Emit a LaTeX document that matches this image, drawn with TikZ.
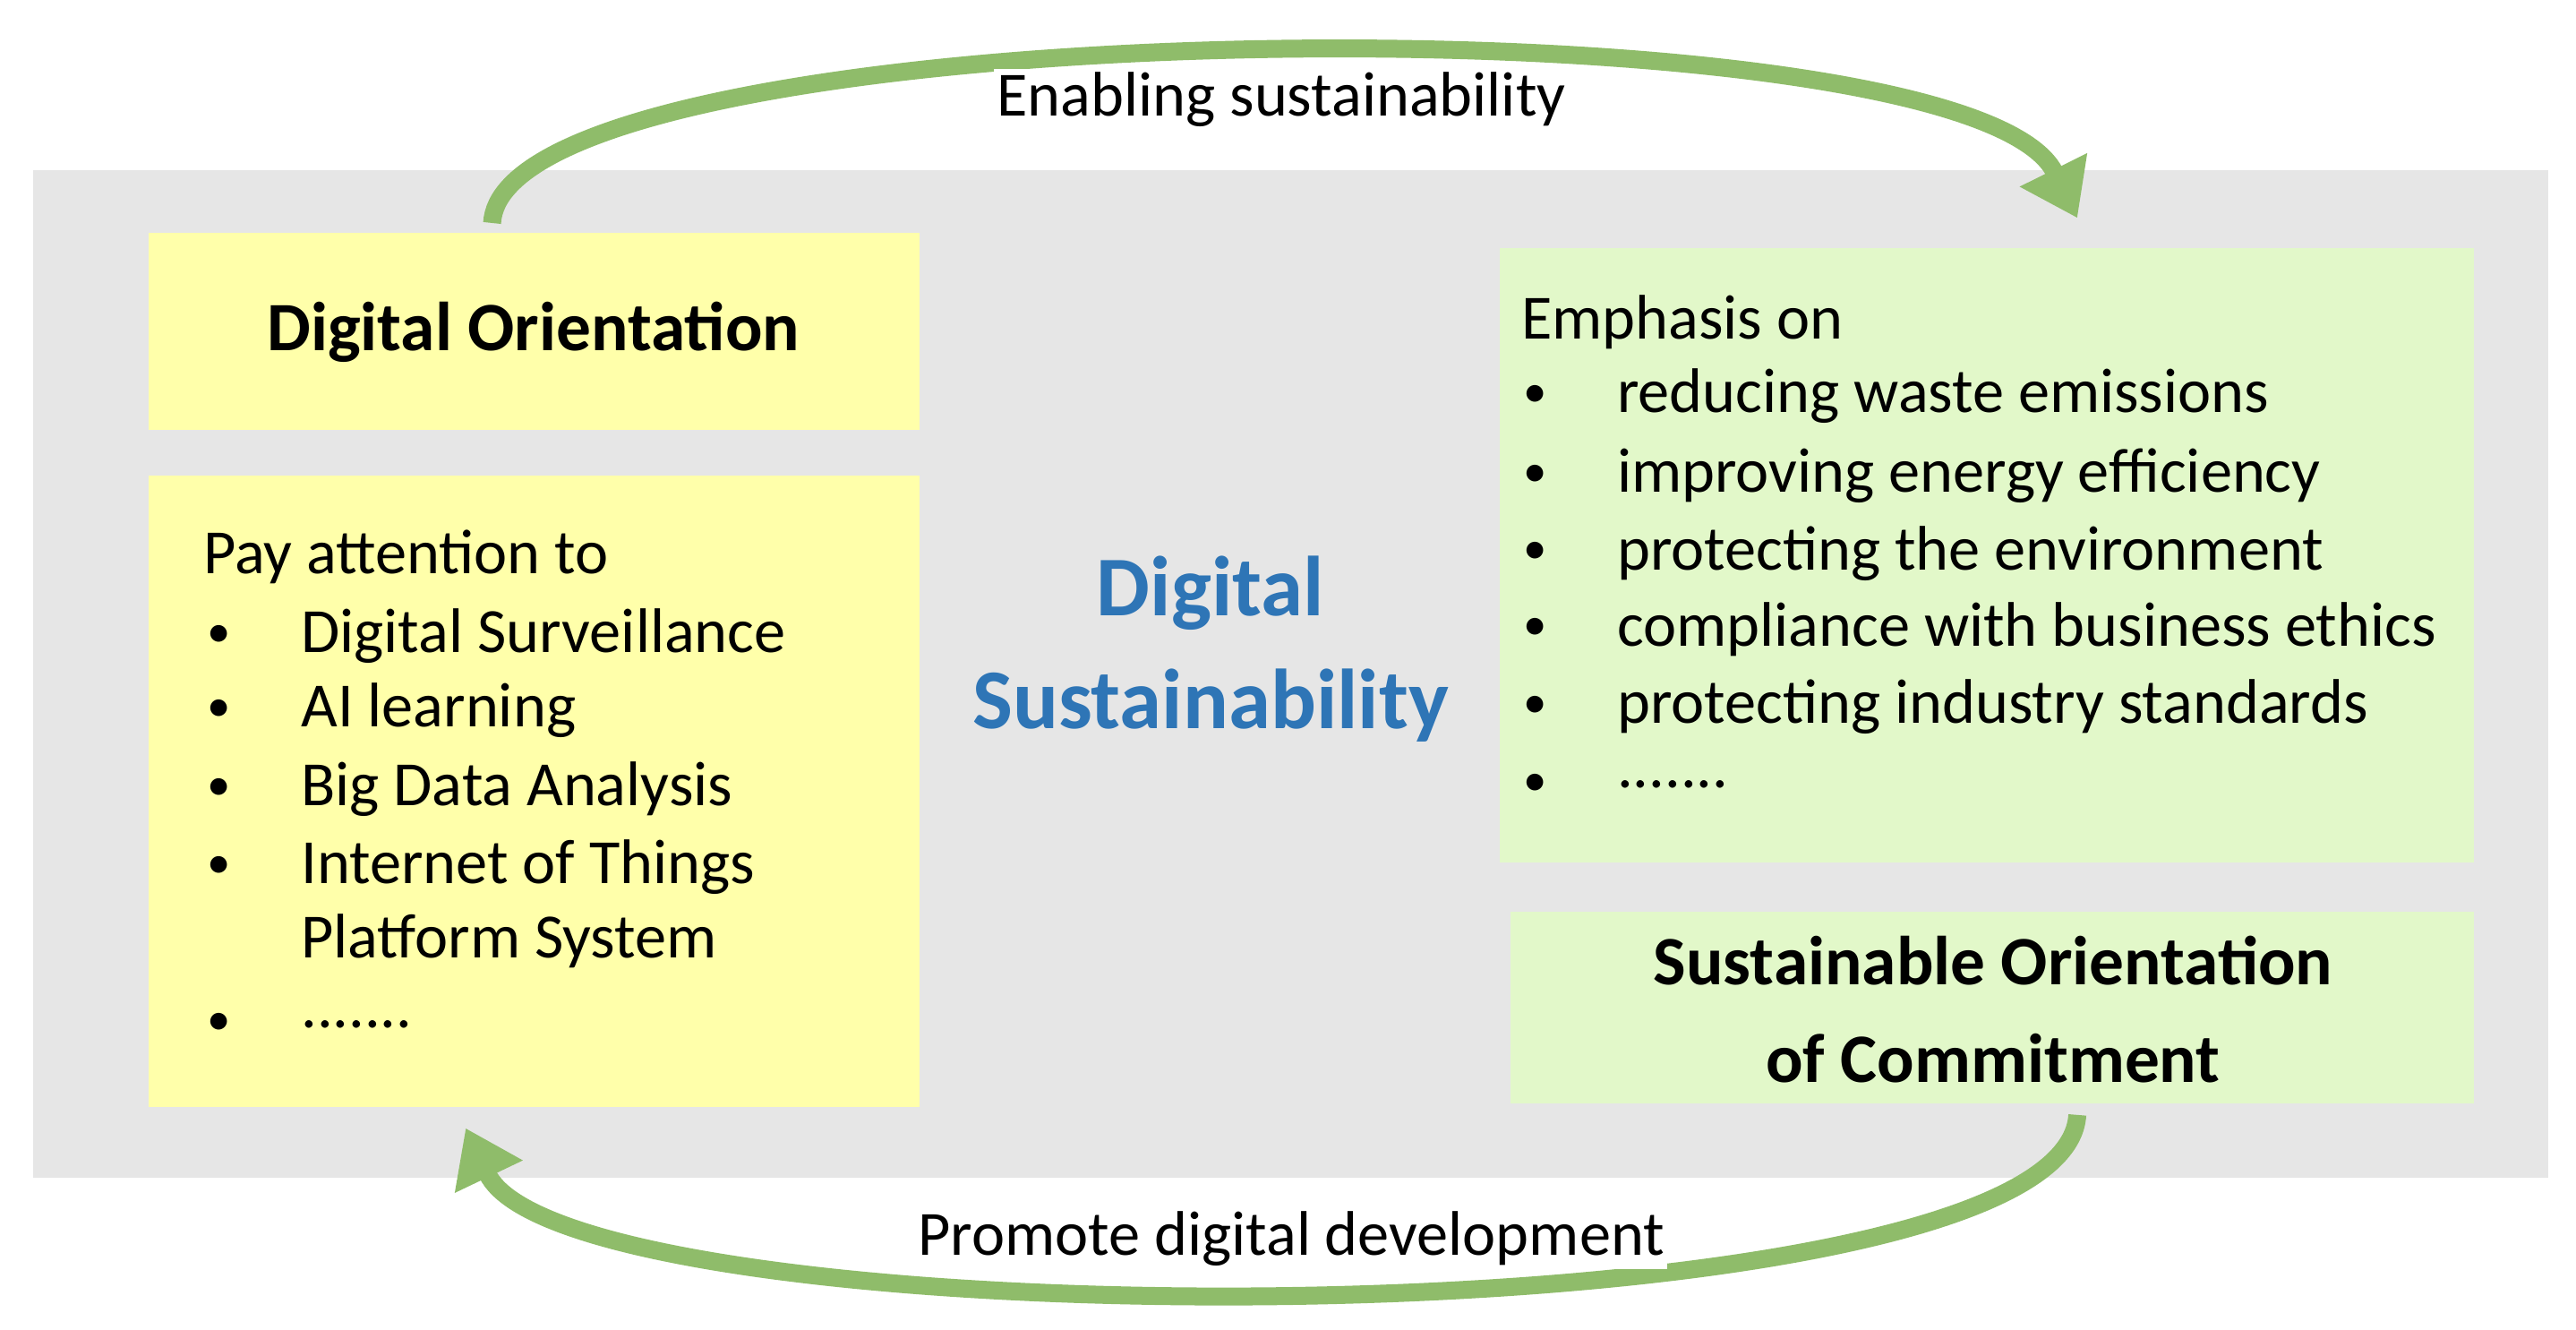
\documentclass[tikz,border=0pt]{standalone}
\usepackage{fontspec}
\setmainfont{Carlito}
\usetikzlibrary{arrows.meta}
\definecolor{greybg}{HTML}{E6E6E6}
\definecolor{yel}{HTML}{FFFFAA}
\definecolor{grn}{HTML}{E2F8C9}
\definecolor{arr}{HTML}{8FBC6A}
\definecolor{blu}{HTML}{2E75B6}
\begin{document}
\begin{tikzpicture}[x=0.01844cm,y=-0.01844cm,
  txt/.style={anchor=west,inner sep=0pt,font=\fontsize{20}{24}\selectfont},
  bul/.style={anchor=west,inner sep=0pt,font=\fontsize{15}{18}\selectfont},
  ttl/.style={align=center,font=\fontsize{22}{31}\selectfont\bfseries},
  arc/.style={draw=arr,line width=2mm,-{Triangle[length=6mm,width=8mm]}}]
\useasboundingbox (0,0) rectangle (1560,805);
\fill[greybg] (20,103) rectangle (1543,713);
\fill[yel] (90,141) rectangle (557,260);
\fill[yel] (90,288) rectangle (557,670);
\fill[grn] (908,150) rectangle (1498,522);
\fill[grn] (915,552) rectangle (1498,668);
\node[ttl] (t1) at (323,201) {Digital Orientation};
\node[ttl] (t2) at (1207,611) {Sustainable Orientation\\of Commitment};
\node[align=center,text=blu,font=\fontsize{27}{36}\selectfont\bfseries] (c) at (733,393) {Digital\\Sustainability};
\node[txt] (p0) at (123,337) {Pay attention to};
\foreach \y/\t [count=\i] in {385/Digital Surveillance,430/AI learning,478/Big Data Analysis,525/Internet of Things}{
  \node[bul] (lb\i) at (125,\y) {•};
  \node[txt] (lt\i) at (182,\y) {\t};}
\node[txt] (lt5) at (182,570) {Platform System};
\node[bul] (lb6) at (125,620) {•};
\node[txt] (lt6) at (182,620) {.......};
\node[txt] (e0) at (921,195) {Emphasis on};
\foreach \y/\t [count=\i] in {240/reducing waste emissions,288/improving energy efficiency,335/protecting the environment,381/compliance with business ethics,428/protecting industry standards}{
  \node[bul] (rb\i) at (922,\y) {•};
  \node[txt] (rt\i) at (979,\y) {\t};}
\node[bul] (rb6) at (922,475) {•};
\node[txt] (rt6) at (979,475) {.......};
\coordinate (a1) at (298,135);
\coordinate (a2) at (1258,132);
\coordinate (b1) at (1258,675);
\coordinate (b2) at (282,683);
\draw[arc] (a1) .. controls (305,5) and (1190,-5) .. (a2);
\draw[arc] (b1) .. controls (1250,815) and (345,815) .. (b2);
\node[font=\fontsize{20}{24}\selectfont,fill=white,inner sep=1pt] (l1) at (776,60) {Enabling sustainability};
\node[font=\fontsize{20}{24}\selectfont,fill=white,inner sep=1pt] (l2) at (782,750) {Promote digital development};
\end{tikzpicture}
\end{document}
